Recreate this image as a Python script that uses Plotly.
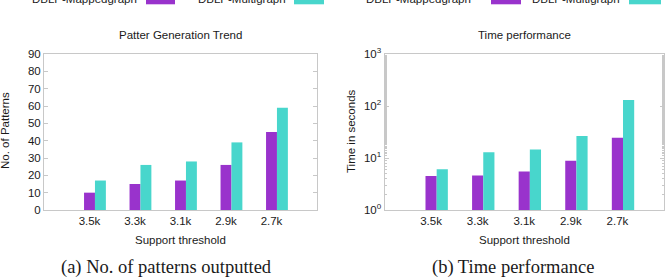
import plotly.graph_objects as go

categories = ["3.5k", "3.3k", "3.1k", "2.9k", "2.7k"]
series_names = ["DBLP-Mappedgraph", "DBLP-Multigraph"]
patterns_mapped = [10, 15, 17, 26, 45]
patterns_multi = [17, 26, 28, 39, 59]
time_mapped = [4.5, 4.6, 5.5, 8.9, 24.5]
time_multi = [6.1, 12.9, 14.5, 26.5, 130]
log_tick_vals = [1, 10, 100, 1000]
log_tick_text = ["10<sup>0</sup>", "10<sup>1</sup>", "10<sup>2</sup>", "10<sup>3</sup>"]

PURPLE = "#9933cc"
CYAN = "#48d6cc"
GRID = "#c8c8c8"
TXT = "#1a1a1a"
SANS = "Liberation Sans, Arial, sans-serif"
SERIF = "Liberation Serif, DejaVu Serif, serif"

W, H = 669, 280
xpos = list(range(len(categories)))
bw = 0.24

fig = go.Figure()
fig.add_trace(go.Bar(x=xpos, y=patterns_mapped, width=bw, offset=-bw / 2,
                     marker=dict(color=PURPLE, line=dict(width=0)), xaxis="x", yaxis="y",
                     showlegend=False))
fig.add_trace(go.Bar(x=xpos, y=patterns_multi, width=bw, offset=bw / 2,
                     marker=dict(color=CYAN, line=dict(width=0)), xaxis="x", yaxis="y",
                     showlegend=False))
fig.add_trace(go.Bar(x=xpos, y=time_mapped, width=bw, offset=-bw / 2,
                     marker=dict(color=PURPLE, line=dict(width=0)), xaxis="x2", yaxis="y2",
                     showlegend=False))
fig.add_trace(go.Bar(x=xpos, y=time_multi, width=bw, offset=bw / 2,
                     marker=dict(color=CYAN, line=dict(width=0)), xaxis="x2", yaxis="y2",
                     showlegend=False))

def px_x(p):
    return p / W

def px_y(p):
    return 1 - p / H

ydom = [px_y(210), px_y(54)]
tickfont = dict(family=SANS, size=11.5, color=TXT)
common_x = dict(range=[-1, 5], tickvals=xpos, ticktext=categories, showgrid=False,
                zeroline=False, showline=True, linecolor=GRID, linewidth=1, mirror=True,
                ticks="", tickfont=tickfont, automargin=False)
xa1 = dict(common_x); xa1.update(domain=[px_x(44), px_x(317)], anchor="y")
xa2 = dict(common_x); xa2.update(domain=[px_x(384.5), px_x(664)], anchor="y2")
# top tick marks (gnuplot mirrored xtics)
top_x = dict(range=[-1, 5], tickvals=xpos, showticklabels=False, showgrid=False,
             zeroline=False, showline=False, side="top", ticks="inside", ticklen=4,
             tickcolor=GRID, automargin=False)
xa3 = dict(top_x); xa3.update(overlaying="x", anchor="y")
xa4 = dict(top_x); xa4.update(overlaying="x2", anchor="y2")

ya1 = dict(domain=ydom, range=[0, 90], dtick=10, showgrid=False, zeroline=False,
           showline=True, linecolor=GRID, linewidth=1, mirror="allticks",
           ticks="inside", ticklen=4, tickcolor=GRID, anchor="x",
           tickfont=tickfont, automargin=False)
ya2 = dict(domain=ydom, type="log", range=[0, 3], tickvals=log_tick_vals, ticktext=log_tick_text,
           showgrid=False, zeroline=False, showline=True, linecolor=GRID, linewidth=1,
           mirror="allticks", ticks="inside", ticklen=4, tickcolor=GRID, anchor="x2",
           tickfont=tickfont, automargin=False,
           minor=dict(ticks="inside", ticklen=2, tickcolor=GRID, showgrid=False))

annotations = []
def ann(text, x, y, size, family=SANS, xanchor="center", yanchor="middle", angle=0):
    annotations.append(dict(text=text, x=px_x(x), y=px_y(y), xref="paper", yref="paper",
                            showarrow=False, xanchor=xanchor, yanchor=yanchor,
                            textangle=angle, font=dict(family=family, size=size, color=TXT)))

ann("Patter Generation Trend", 180, 35, 11.5)
ann("Time performance", 524, 35, 11.5)
ann("Support threshold", 180, 240, 11.5)
ann("Support threshold", 524, 240, 11.5)
ann("No. of Patterns", 5, 131, 11.5, angle=-90)
ann("Time in seconds", 351, 131, 11.5, angle=-90)
ann("(a) No. of patterns outputted", 166, 267, 18.5, family=SERIF)
ann("(b) Time performance", 513, 267, 18.5, family=SERIF)

# legends (cut off at top of the image)
legend_rows = [
    (139, 146, 175, series_names[0], PURPLE),
    (288, 294, 324, series_names[1], CYAN),
    (473, 491, 521, series_names[0], PURPLE),
    (622, 629, 661, series_names[1], CYAN),
]
shapes = []
for tx, s0, s1, name, col in legend_rows:
    ann(name, tx, 6.5, 11.5, xanchor="right", yanchor="bottom")
    shapes.append(dict(type="rect", xref="paper", yref="paper", x0=px_x(s0), x1=px_x(s1),
                       y0=px_y(4.3), y1=px_y(-8), fillcolor=col, line=dict(width=0)))

fig.update_layout(width=W, height=H, margin=dict(l=0, r=0, t=0, b=0, autoexpand=False),
                  paper_bgcolor="white", plot_bgcolor="white",
                  xaxis=xa1, yaxis=ya1, xaxis2=xa2, yaxis2=ya2, xaxis3=xa3, xaxis4=xa4,
                  annotations=annotations, shapes=shapes, barmode="overlay",
                  showlegend=False)
fig.write_html("out.html")
